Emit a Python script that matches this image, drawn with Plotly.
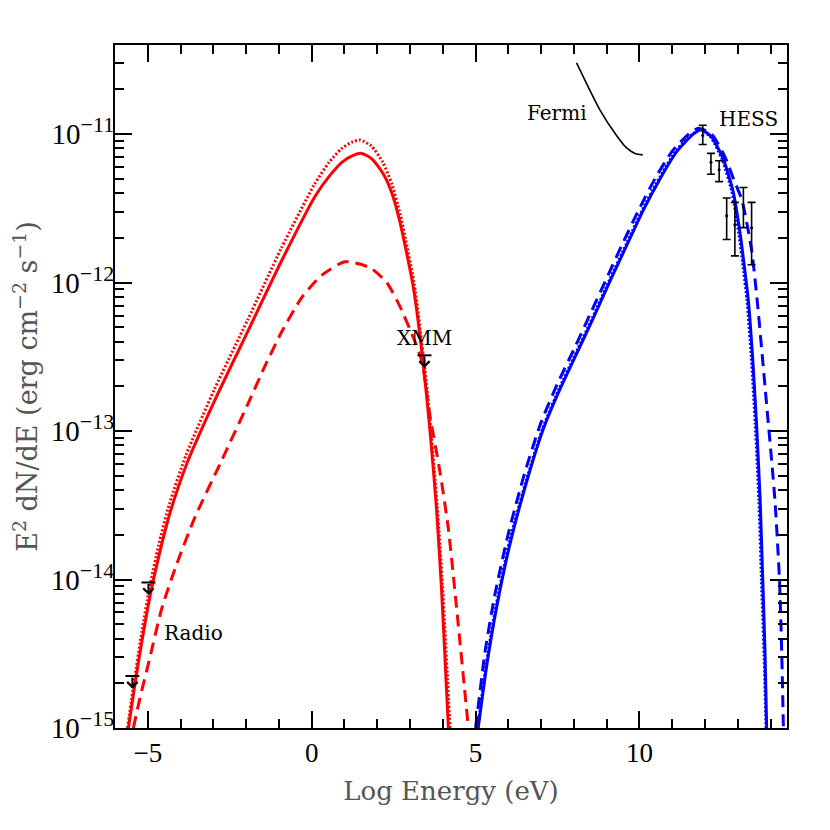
import numpy as np
import plotly.graph_objects as go

# --- DATA (log10 of E^2 dN/dE in erg cm^-2 s^-1) ---
# synchrotron (red)
sync_solid_x = [-5.59, -5.39, -5.16, -4.93, -4.65, -4.32, -3.81, -2.95, -1.93, -0.91, 0.10, 0.55, 0.92, 1.25,
                1.53, 1.85, 2.19, 2.45, 2.69, 3.10, 3.41, 3.61, 3.81, 3.96, 4.10, 4.17]
sync_solid_y = [-15.0, -14.70, -14.39, -14.11, -13.83, -13.55, -13.22, -12.79, -12.32, -11.85, -11.42, -11.28, -11.19,
                -11.145, -11.13, -11.17, -11.27, -11.40, -11.59, -12.03, -12.56, -13.00, -13.53, -14.06, -14.68, -15.0]
sync_dotted_x = [-5.62, -5.41, -5.18, -4.95, -4.67, -4.34, -3.83, -2.97, -1.95, -0.93, 0.08, 0.53, 0.90, 1.22,
                 1.48, 1.82, 2.17, 2.45, 2.70, 3.12, 3.43, 3.63, 3.83, 3.99, 4.14, 4.22]
sync_dotted_y = [-15.0, -14.68, -14.35, -14.06, -13.77, -13.49, -13.16, -12.72, -12.25, -11.77, -11.34, -11.19, -11.10,
                 -11.055, -11.04, -11.08, -11.19, -11.34, -11.54, -12.00, -12.54, -12.98, -13.51, -14.04, -14.66, -15.0]
sync_dashed_x = [-5.44, -5.24, -4.93, -4.58, -4.14, -3.56, -2.75, -1.93, -1.42, -0.91, -0.30, 0.31, 1.02,
                 1.78, 2.29, 2.69, 3.10, 3.36, 3.61, 3.91, 4.17, 4.42, 4.78]
sync_dashed_y = [-15.0, -14.80, -14.52, -14.20, -13.91, -13.58, -13.20, -12.81, -12.56, -12.33, -12.10, -11.95, -11.86,
                 -11.90, -12.00, -12.16, -12.37, -12.53, -12.90, -13.27, -13.66, -14.19, -15.0]

# inverse Compton (blue)
ic_solid_x = [5.08, 5.34, 5.64, 6.05, 6.56, 7.06, 7.57, 8.08, 8.59, 9.10, 9.61, 10.12, 10.63, 11.13, 11.64, 11.88,
              12.20, 12.56, 12.86, 13.07, 13.22, 13.32, 13.45, 13.57, 13.68, 13.76, 13.83, 13.88]
ic_solid_y = [-15.0, -14.58, -14.19, -13.76, -13.34, -12.99, -12.72, -12.48, -12.24, -11.99, -11.75, -11.51, -11.30,
              -11.12, -11.00, -10.97, -11.02, -11.17, -11.39, -11.67, -11.93, -12.12, -12.50, -12.95, -13.46, -14.00,
              -14.50, -15.0]
ic_dotted_x = [5.07, 5.33, 5.63, 6.04, 6.55, 7.05, 7.56, 8.07, 8.58, 9.09, 9.60, 10.11, 10.62, 11.12, 11.62, 11.86,
               12.17, 12.52, 12.82, 13.03, 13.18, 13.28, 13.41, 13.53, 13.64, 13.72, 13.80, 13.86]
ic_dotted_y = [-15.0, -14.56, -14.17, -13.74, -13.33, -12.98, -12.71, -12.47, -12.23, -11.98, -11.74, -11.50, -11.29,
               -11.11, -11.00, -10.97, -11.02, -11.17, -11.39, -11.67, -11.93, -12.12, -12.50, -12.95, -13.46, -14.00,
               -14.50, -15.0]
ic_dashed_x = [5.00, 5.30, 5.60, 6.00, 6.50, 7.00, 7.50, 8.00, 8.50, 9.00, 9.50, 10.00, 10.50, 11.00, 11.50, 11.80,
               12.20, 12.60, 12.90, 13.12, 13.42, 13.59, 13.87, 14.13, 14.27, 14.34, 14.39]
ic_dashed_y = [-15.0, -14.47, -14.09, -13.69, -13.28, -12.94, -12.68, -12.45, -12.21, -11.97, -11.73, -11.50, -11.29,
               -11.115, -11.00, -10.96, -11.00, -11.15, -11.32, -11.44, -11.78, -12.12, -12.80, -13.46, -14.00, -14.50,
               -15.0]

# Fermi spectrum (black line)
fermi_x = [8.08, 8.80, 9.30, 9.59, 9.86, 10.10]
fermi_y = [-10.52, -10.84, -11.01, -11.09, -11.13, -11.14]

# HESS points: centre, upper and lower ends of the error bars
hess_x = [11.93, 12.18, 12.43, 12.66, 12.91, 13.17, 13.42]
hess_y = [-11.01, -11.19, -11.24, -11.55, -11.61, -11.49, -11.63]
hess_hi = [-10.94, -11.13, -11.18, -11.43, -11.46, -11.36, -11.46]
hess_lo = [-11.07, -11.27, -11.32, -11.71, -11.82, -11.63, -11.88]

# upper limits (Radio, XMM)
ul_x = [-4.98, -5.47, 3.44]
ul_y = [-14.02, -14.65, -12.49]

labels = ["Radio", "XMM", "Fermi", "HESS"]
label_x = [-3.62, 3.43, 7.48, 13.34]
label_y = [-14.36, -12.37, -10.86, -10.90]

RED = "#ff0000"
BLUE = "#0000ff"
LABEL_FONT = "DejaVu Serif"
TICK_FONT = "Liberation Serif"


def lin(v):
    return 10 ** np.asarray(v, dtype=float)


fig = go.Figure()

curves = [
    (sync_dotted_x, sync_dotted_y, RED, "2px,2px"),
    (sync_dashed_x, sync_dashed_y, RED, "12px,7px"),
    (sync_solid_x, sync_solid_y, RED, "solid"),
    (ic_dotted_x, ic_dotted_y, BLUE, "2px,2px"),
    (ic_dashed_x, ic_dashed_y, BLUE, "12px,7px"),
    (ic_solid_x, ic_solid_y, BLUE, "solid"),
]
for cx, cy, col, dash in curves:
    fig.add_trace(go.Scatter(x=cx, y=lin(cy), mode="lines",
                             line=dict(color=col, width=3, dash=dash, shape="spline", smoothing=0.6),
                             showlegend=False, hoverinfo="skip"))

fig.add_trace(go.Scatter(x=fermi_x, y=lin(fermi_y), mode="lines",
                         line=dict(color="black", width=1.6, shape="spline", smoothing=0.6),
                         showlegend=False))

hy = lin(hess_y)
fig.add_trace(go.Scatter(
    x=hess_x, y=hy, mode="markers",
    marker=dict(color="black", size=3),
    error_y=dict(type="data", symmetric=False, array=lin(hess_hi) - hy, arrayminus=hy - lin(hess_lo),
                 color="black", thickness=1.6, width=4),
    showlegend=False))

# upper limit bars + downward arrows
fig.add_trace(go.Scatter(x=ul_x, y=lin(ul_y), mode="markers",
                         marker=dict(symbol="line-ew", size=10, line=dict(color="black", width=2)),
                         showlegend=False))
for ux, uy in zip(ul_x, ul_y):
    fig.add_annotation(x=ux, y=uy - 0.085, ax=ux, ay=uy, xref="x", yref="y", axref="x", ayref="y",
                       text="", showarrow=True, arrowhead=4, arrowsize=1, arrowwidth=2, arrowcolor="black")

for t, lx, ly in zip(labels, label_x, label_y):
    fig.add_annotation(x=lx, y=ly, text=t, showarrow=False, xref="x", yref="y",
                       font=dict(family=LABEL_FONT, size=20, color="black"))

ytv = [1e-15, 1e-14, 1e-13, 1e-12, 1e-11]
ytt = ['10<sup><span style="font-size:22px">\u2212%d</span></sup>' % n for n in (15, 14, 13, 12, 11)]
yminor = [m * 10.0 ** e for e in range(-15, -10) for m in range(2, 10)]

axis_common = dict(showline=True, linecolor="black", linewidth=2, mirror="ticks",
                   ticks="inside", ticklen=17, tickwidth=1.5, tickcolor="black",
                   showgrid=False, zeroline=False)

fig.update_xaxes(range=[-6, 14.5], dtick=5, tick0=0,
                 minor=dict(ticks="inside", ticklen=9, dtick=1, tickwidth=1.5, tickcolor="black", showgrid=False),
                 tickfont=dict(family=TICK_FONT, size=27, color="black"),
                 ticklabelstandoff=0,
                 title=dict(text="Log Energy (eV)", font=dict(family=LABEL_FONT, size=26, color="#555"), standoff=14),
                 **axis_common)
fig.update_yaxes(type="log", range=[-15, -10.4], tickmode="array", tickvals=ytv, ticktext=ytt,
                 minor=dict(ticks="inside", ticklen=9, tickvals=yminor, tickwidth=1.5, tickcolor="black",
                            showgrid=False),
                 tickfont=dict(family=TICK_FONT, size=29, color="black"),
                 ticklabelstandoff=-7,
                 title=dict(text="E<sup>2</sup> dN/dE (erg cm<sup>\u22122</sup> s<sup>\u22121</sup>)",
                            font=dict(family=LABEL_FONT, size=27, color="#555"), standoff=8),
                 **axis_common)

# margins allow for the 8px body margin of the html page
fig.update_layout(width=830, height=830, margin=dict(l=107, r=51, t=37, b=110),
                  plot_bgcolor="white", paper_bgcolor="white", showlegend=False)

fig.write_html("out.html")
